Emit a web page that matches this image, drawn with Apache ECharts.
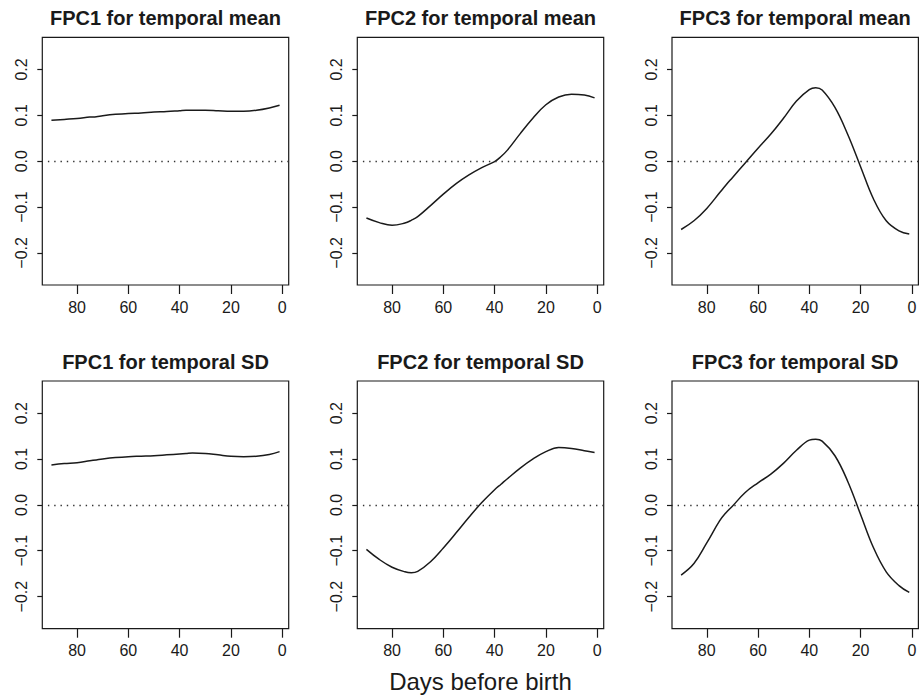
<!DOCTYPE html>
<html>
<head>
<meta charset="utf-8">
<script src="https://cdn.jsdelivr.net/npm/echarts@6/dist/echarts.min.js"></script>
<style>
html,body{margin:0;padding:0;background:#fff;}
#chart{width:921px;height:698px;}
</style>
</head>
<body>
<div id="chart"></div>
<script>
// ---- data ----
const days = [90, 85, 80, 75, 72.5, 70, 65, 60, 55, 50, 45, 40, 37.5, 35, 30, 25, 20, 15, 10, 5, 1];
const meanFPC1 = [0.089, 0.091, 0.093, 0.096, 0.097, 0.099, 0.102, 0.104, 0.105, 0.107, 0.108, 0.110, 0.111, 0.111, 0.111, 0.110, 0.109, 0.109, 0.111, 0.116, 0.122];
const meanFPC2 = [-0.124, -0.134, -0.140, -0.135, -0.129, -0.121, -0.097, -0.072, -0.049, -0.030, -0.014, -0.001, 0.010, 0.024, 0.060, 0.094, 0.123, 0.140, 0.146, 0.144, 0.138];
const meanFPC3 = [-0.149, -0.130, -0.103, -0.069, -0.052, -0.036, -0.004, 0.028, 0.059, 0.094, 0.131, 0.156, 0.160, 0.155, 0.117, 0.058, -0.012, -0.082, -0.130, -0.152, -0.159];
const sdFPC1 = [0.087, 0.090, 0.092, 0.096, 0.098, 0.100, 0.103, 0.105, 0.106, 0.107, 0.109, 0.111, 0.112, 0.113, 0.112, 0.109, 0.106, 0.105, 0.106, 0.110, 0.116];
const sdFPC2 = [-0.097, -0.119, -0.136, -0.146, -0.148, -0.145, -0.124, -0.094, -0.061, -0.027, 0.005, 0.033, 0.045, 0.057, 0.080, 0.100, 0.116, 0.125, 0.123, 0.118, 0.114];
const sdFPC3 = [-0.153, -0.128, -0.083, -0.035, -0.017, -0.003, 0.027, 0.048, 0.067, 0.091, 0.119, 0.141, 0.143, 0.139, 0.107, 0.051, -0.021, -0.093, -0.146, -0.176, -0.191];

const titles = ['FPC1 for temporal mean', 'FPC2 for temporal mean', 'FPC3 for temporal mean',
                'FPC1 for temporal SD', 'FPC2 for temporal SD', 'FPC3 for temporal SD'];
const panelSeries = [meanFPC1, meanFPC2, meanFPC3, sdFPC1, sdFPC2, sdFPC3];
const xTicks = [0, 20, 40, 60, 80];
const xTickLabels = ['0', '20', '40', '60', '80'];
const yTicks = [-0.2, -0.1, 0, 0.1, 0.2];
const yTickLabels = ['\u22120.2', '\u22120.1', '0.0', '0.1', '0.2'];
const xAxisTitle = 'Days before birth';

// ---- layout ----
const FONT = '"Liberation Sans", Arial, Helvetica, sans-serif';
const INK = '#1a1a1a';
const lefts = [42.3, 357.3, 672];
const tops = [37.3, 381];
const W = 246.4, H = 247.7;

function nearestLabel(v, ticks, labels) {
  let k = 0, best = 1e9;
  ticks.forEach((t, j) => { if (Math.abs(t - v) < best) { best = Math.abs(t - v); k = j; } });
  return labels[k];
}

const grids = [], xAxes = [], yAxes = [], series = [], graphics = [];
for (let i = 0; i < 6; i++) {
  const col = i % 3, row = Math.floor(i / 3);
  const left = lefts[col], top = tops[row];
  grids.push({
    left: left, top: top, width: W, height: H,
    show: true, borderColor: INK, borderWidth: 1.2, backgroundColor: 'transparent',
    containLabel: false, outerBoundsMode: 'none'
  });
  xAxes.push({
    type: 'value', gridIndex: i, inverse: true, min: -2.56, max: 93.56, position: 'bottom',
    axisLine: { show: false, onZero: false },
    splitLine: { show: false },
    axisTick: { show: true, customValues: xTicks, length: 9, lineStyle: { color: INK, width: 1.2 } },
    axisLabel: {
      show: true, customValues: xTicks, margin: 14,
      color: INK, fontSize: 16, fontFamily: FONT,
      formatter: v => nearestLabel(v, xTicks, xTickLabels)
    }
  });
  yAxes.push({
    type: 'value', gridIndex: i, min: -0.27, max: 0.27, position: 'left',
    axisLine: { show: false, onZero: false },
    splitLine: { show: false },
    axisTick: { show: true, customValues: yTicks, length: 5, lineStyle: { color: INK, width: 1.2 } },
    axisLabel: {
      show: true, customValues: yTicks, rotate: 90, margin: 13,
      color: INK, fontSize: 16, fontFamily: FONT,
      formatter: v => nearestLabel(v, yTicks, yTickLabels)
    }
  });
  series.push({
    type: 'line', xAxisIndex: i, yAxisIndex: i,
    data: days.map((d, j) => [d, panelSeries[i][j]]),
    showSymbol: false, smooth: 0.4,
    lineStyle: { color: INK, width: 1.5 },
    silent: true,
    markLine: {
      silent: true, symbol: ['none', 'none'],
      label: { show: false },
      lineStyle: { color: '#333', width: 1.3, type: [1.4, 4.9] },
      data: [{ yAxis: 0 }]
    }
  });
  graphics.push({
    type: 'text',
    x: left + W / 2, y: top - 19.5,
    style: {
      text: titles[i], fill: INK,
      font: 'bold 20px ' + FONT,
      textAlign: 'center', textVerticalAlign: 'middle'
    }
  });
}
graphics.push({
  type: 'text', x: lefts[1] + W / 2, y: 681.7,
  style: { text: xAxisTitle, fill: INK, font: '24px ' + FONT, textAlign: 'center', textVerticalAlign: 'middle' }
});

const chart = echarts.init(document.getElementById('chart'), null, { renderer: 'svg' });
chart.setOption({
  animation: false,
  backgroundColor: '#fff',
  grid: grids,
  xAxis: xAxes,
  yAxis: yAxes,
  series: series,
  graphic: graphics
});
</script>
</body>
</html>
